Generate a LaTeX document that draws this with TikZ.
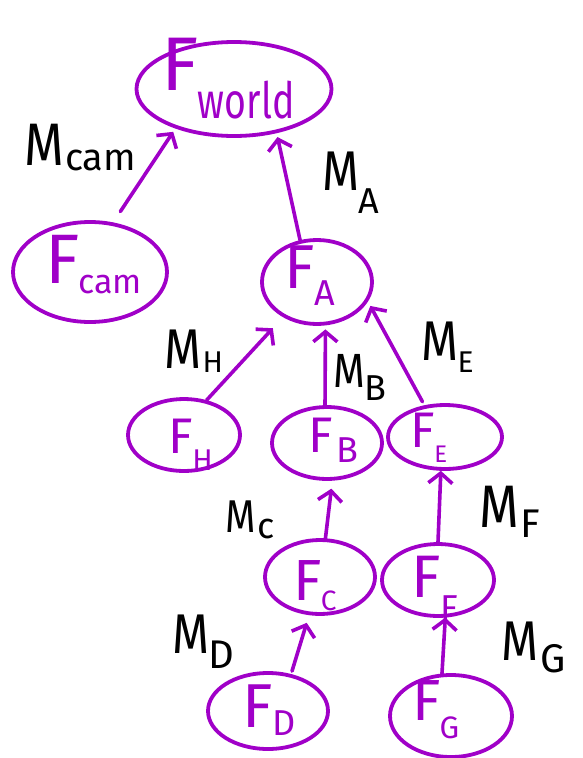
\documentclass[tikz,border=0pt]{standalone}
\usepackage{fontspec}
\setmainfont{Fira Sans}
\usetikzlibrary{shapes.geometric,arrows.meta}
\definecolor{pen}{RGB}{160,0,200}
% #1 main letter, #2 main size, #3 subscript, #4 sub size, #5 kern, #6 raise
\newcommand\HSub[6]{{\fontsize{#2}{#2}\selectfont #1}\kern#5\raisebox{#6}{\fontsize{#4}{#4}\selectfont #3}}
\newcommand\NM{\scalebox{0.85}[1]{M}}
\begin{document}
\begin{tikzpicture}[x=1pt,y=-1pt,
 frame/.style={draw=pen, line width=3.8pt, ellipse, inner sep=0pt},
 link/.style={draw=pen, line width=3.6pt, line cap=round, line join=round, -{Straight Barb[length=10pt,width=24pt]}},
 flab/.style={text=pen, inner sep=0pt, anchor=base west},
 mlab/.style={text=black, inner sep=0pt, anchor=base west}]
\useasboundingbox (0,0) rectangle (582,758);
\clip (0,0) rectangle (582,758);
\node[inner sep=0pt] (ytop) at (288,-4) {\fontsize{14}{14}\selectfont$y$};
% frames
\node[frame, minimum width=195pt, minimum height=94pt] (world) at (234,89) {};
\node[frame, minimum width=154pt, minimum height=100pt] (cam) at (90,272) {};
\node[frame, minimum width=110pt, minimum height=84pt] (A) at (317,282) {};
\node[frame, minimum width=112pt, minimum height=72pt] (H) at (184,435) {};
\node[frame, minimum width=110pt, minimum height=72pt] (B) at (327,443) {};
\node[frame, minimum width=114pt, minimum height=64pt] (E) at (445,437) {};
\node[frame, minimum width=110pt, minimum height=74pt] (C) at (320,577) {};
\node[frame, minimum width=112pt, minimum height=72pt] (F) at (438,580) {};
\node[frame, minimum width=120pt, minimum height=76pt] (D) at (268,711) {};
\node[frame, minimum width=122pt, minimum height=82pt] (G) at (451,716) {};
% frame labels
\node[flab] (worldL) at (161.4,90) {\HSub{F}{76pt}{\scalebox{0.75}[1]{world}}{50pt}{-1pt}{-28pt}};
\node[flab] (camL) at (44.8,283) {\HSub{F}{70pt}{cam}{34pt}{-1pt}{-10pt}};
\node[flab] (AL) at (284.7,288) {\HSub{F}{62pt}{A}{36pt}{-1pt}{-17pt}};
\node[flab] (HL) at (168.5,453) {\HSub{F}{50pt}{H}{30pt}{-1pt}{-17pt}};
\node[flab] (BL) at (308.5,452) {\HSub{F}{50pt}{B}{36pt}{3.7pt}{-10pt}};
\node[flab] (EL) at (410.6,447) {\HSub{F}{50pt}{E}{24pt}{-1pt}{-15pt}};
\node[flab] (CL) at (293.1,600) {\HSub{F}{58pt}{C}{28pt}{-1pt}{-10pt}};
\node[flab] (FL) at (411.7,597) {\HSub{F}{60pt}{F}{36pt}{-1pt}{-23pt}};
\node[flab] (DL) at (242.5,727) {\HSub{F}{62pt}{D}{36pt}{-1pt}{-8pt}};
\node[flab] (GL) at (412,720) {\HSub{F}{58pt}{G}{31pt}{-1pt}{-18pt}};
% connectors
\draw[link, shorten <=13pt, shorten >=4pt] (cam.65) -- (world.214);
\draw[link, shorten >=4pt] (A.112) -- (world.314);
\draw[link, shorten >=15pt] (H.57) -- (A.226);
\draw[link, shorten >=4pt] (B.93) -- (A.281);
\draw[link, shorten <=4pt, shorten >=5pt] (E.123) -- (A.339);
\draw[link, shorten >=8pt] (C.82) -- (B.278);
\draw[link] (F.90) -- (E.263);
\draw[link, shorten <=3pt, shorten >=8pt] (D.58) -- (C.254);
\draw[link] (G.102) -- (F.281);
% transform labels
\node[mlab] (Mcam) at (24.4,165) {\HSub{\NM}{60pt}{cam}{38pt}{0.9pt}{-5pt}};
\node[mlab] (MA) at (321.9,190) {\HSub{\NM}{56pt}{A}{36pt}{-1pt}{-23pt}};
\node[mlab] (MH) at (164.6,368) {\HSub{\NM}{56pt}{H}{30pt}{0.8pt}{-4pt}};
\node[mlab] (MB) at (333.4,387) {\HSub{\NM}{48pt}{B}{36pt}{-1pt}{-13pt}};
\node[mlab] (ME) at (421.6,360) {\HSub{\NM}{56pt}{E}{30pt}{-1.2pt}{-12pt}};
\node[mlab] (MC) at (225.2,532) {\HSub{\NM}{46pt}{c}{36pt}{2pt}{-6pt}};
\node[mlab] (MF) at (479.4,527) {\HSub{\NM}{60pt}{F}{40pt}{1.2pt}{-10pt}};
\node[mlab] (MD) at (172,653) {\HSub{\NM}{56pt}{D}{40pt}{-1pt}{-15pt}};
\node[mlab] (MG) at (501.6,660) {\HSub{\NM}{56pt}{G}{40pt}{1.3pt}{-12pt}};
\end{tikzpicture}
\end{document}
